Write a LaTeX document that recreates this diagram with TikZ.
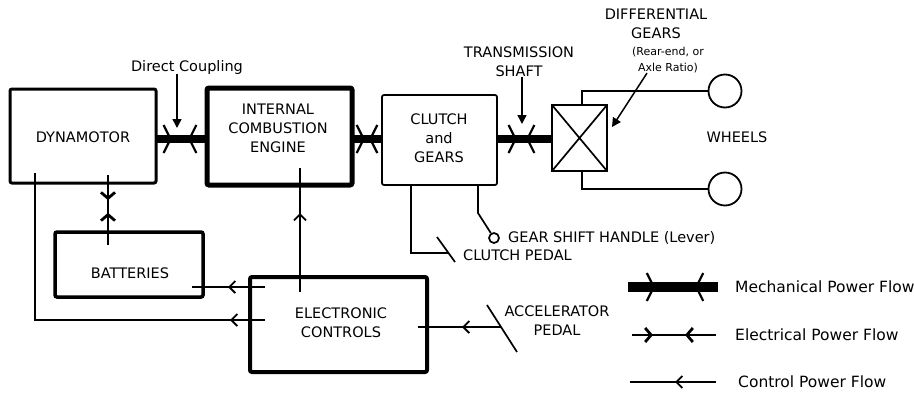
\documentclass[tikz,border=0pt]{standalone}
\usepackage{fontspec}
\setmainfont{DejaVu Sans}
\usetikzlibrary{arrows.meta,decorations.markings,calc}
\tikzset{
  mbarb/.tip={Straight Barb[length=7pt,width=28pt,line width=2.2pt]},
  ebarb/.tip={Straight Barb[length=6pt,width=14pt,line width=2.8pt]},
  cbarb/.tip={Straight Barb[length=6pt,width=12pt,line width=1.8pt]},
}
\begin{document}
\begin{tikzpicture}[x=1pt,y=-1pt,
  blk/.style={draw,rounded corners=2pt,anchor=north west,inner sep=0pt,outer sep=0pt},
  lbl/.style={font=\fontsize{14.5}{19}\selectfont,align=center,inner sep=0pt},
  sml/.style={font=\fontsize{11}{16}\selectfont,align=center,inner sep=0pt},
  leg/.style={font=\fontsize{15.5}{17}\selectfont,anchor=west,inner sep=0pt},
  mech/.style 2 args={line width=8pt,postaction={decorate},decoration={markings,
      mark=at position #1 with {\arrow{mbarb}},
      mark=at position #2 with {\arrowreversed{mbarb}}}},
  elec/.style 2 args={line width=2.4pt,postaction={decorate},decoration={markings,
      mark=at position #1 with {\arrow{ebarb}},
      mark=at position #2 with {\arrowreversed{ebarb}}}},
  ctrl/.style={line width=1.7pt,postaction={decorate},decoration={markings,
      mark=at position #1 with {\arrow{cbarb}}}},
  ln/.style={line width=1.7pt},
  pointer/.style={line width=1.5pt,-{Triangle[length=9pt,width=9pt]}},
]
\useasboundingbox (0,0) rectangle (914,394);

% blocks
\node[blk,line width=3pt,minimum width=146pt,minimum height=94pt] (dyn) at (10,89) {};
\node[blk,line width=5pt,minimum width=145pt,minimum height=97pt] (ice) at (207,88) {};
\node[blk,line width=1.7pt,minimum width=115pt,minimum height=90pt] (clu) at (382,95) {};
\node[blk,line width=2.2pt,minimum width=55pt,minimum height=66pt,rounded corners=0pt] (diff) at (552,105) {};
\node[blk,line width=3.5pt,minimum width=148pt,minimum height=65pt] (bat) at (55,232) {};
\node[blk,line width=4pt,minimum width=177pt,minimum height=95pt] (ec) at (250,277) {};
\draw[ln] (diff.north west) -- (diff.south east) (diff.north east) -- (diff.south west);
\node[circle,draw,line width=1.8pt,minimum size=33pt,inner sep=0pt] (w1) at (725,91) {};
\node[circle,draw,line width=1.8pt,minimum size=33pt,inner sep=0pt] (w2) at (725,189) {};
\node[circle,draw,ln,minimum size=10pt,inner sep=0pt] (gs) at (494,238) {};

% texts
\node[lbl] (tdyn) at (83,137) {DYNAMOTOR};
\node[lbl] (tice) at (278,128) {INTERNAL\\COMBUSTION\\ENGINE};
\node[lbl] (tclu) at (439,138) {CLUTCH\\and\\GEARS};
\node[lbl] (tbat) at (130,273) {BATTERIES};
\node[lbl] (tec) at (341,323) {ELECTRONIC\\CONTROLS};
\node[lbl] (tdc) at (187,67) {Direct Coupling};
\node[lbl] (tts) at (519,62) {TRANSMISSION\\SHAFT};
\node[lbl] (tdg) at (656,24) {DIFFERENTIAL\\GEARS};
\node[sml] (tra) at (668,60) {(Rear-end, or\\Axle Ratio)};
\node[lbl] (twh) at (737,137) {WHEELS};
\node[lbl,anchor=west] (tgs) at (508,238) {GEAR SHIFT HANDLE (Lever)};
\node[lbl,anchor=west] (tcp) at (463,255) {CLUTCH PEDAL};
\node[lbl] (tap) at (557,321) {ACCELERATOR\\PEDAL};

% mechanical shafts
\draw[mech={0.31}{0.63}] (dyn.east |- 0,139) -- (ice.west |- 0,139);
\draw[mech={0.43}{0.57}] (ice.east |- 0,139) -- (clu.west |- 0,139);
\draw[mech={0.36}{0.53}] (clu.east |- 0,139) -- (diff.west |- 0,139);

% electrical
\draw[elec={0.36}{0.54}] ($(dyn.south -| 108,0)+(0,-8)$) -- ($(bat.north -| 108,0)+(0,13)$);

% control
\draw[ctrl=37pt] ($(ec.west |- 0,287)+(15,0)$) -- ($(bat.east |- 0,287)+(-11,0)$);
\draw[ctrl=35pt] ($(ec.west |- 0,320)+(15,0)$) -| ($(dyn.south -| 35,0)+(0,-10)$);
\draw[ctrl=79pt] ($(ec.north -| 300,0)+(0,15)$) -- ($(ice.south -| 300,0)+(0,-17)$);
\coordinate (ap) at (501,327);
\coordinate (ap1) at (487,305);
\coordinate (ap2) at (517,352);
\draw[ln] (ap1) -- (ap2);
\draw[ctrl=39pt] (ap) -- ($(ec.east |- 0,327)+(-9,0)$);

% clutch pedal and gear shift
\coordinate (cp) at (448,253);
\coordinate (cpa) at (437,237);
\coordinate (cpb) at (455,262);
\draw[ln] (clu.south -| 411,0) |- (cp);
\draw[ln] (cpa) -- (cpb);
\draw[ln] (clu.south -| 478,0) -- (478,213) -- (gs);

% wheels
\draw[ln] (diff.north -| 582,0) |- (w1.west);
\draw[ln] (diff.south -| 582,0) |- (w2.west);

% pointers
\draw[pointer] (tdc.south -| 177,0) -- (177,128);
\draw[pointer] (tts.south -| 522,0) -- (522,124);
\draw[pointer] (tra.south -| 647,0) -- (612,127);

% legend
\coordinate (m1) at (628,287); \coordinate (m2) at (718,287);
\coordinate (e1) at (632,335); \coordinate (e2) at (716,335);
\coordinate (c1) at (716,382); \coordinate (c2) at (630,382);
\draw[mech={27pt}{67pt},line width=10pt] (m1) -- (m2);
\draw[elec={21pt}{53pt}] (e1) -- (e2);
\draw[ctrl=41pt] (c1) -- (c2);
\node[leg] (lm) at (735,287) {Mechanical Power Flow};
\node[leg] (le) at (735,335) {Electrical Power Flow};
\node[leg] (lc) at (738,382) {Control Power Flow};
\end{tikzpicture}
\end{document}
